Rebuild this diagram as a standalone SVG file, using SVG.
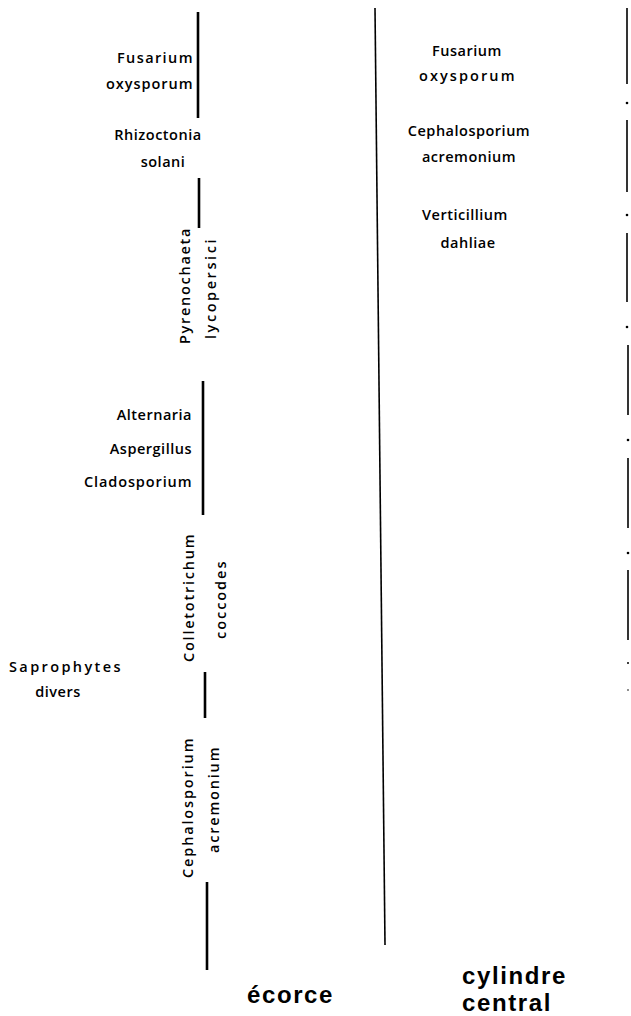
<svg xmlns="http://www.w3.org/2000/svg" width="631" height="1016" viewBox="0 0 631 1016">
<style>
  .t{font-family:"Open Sans","Liberation Sans",sans-serif;font-weight:600;font-size:14.5px;fill:#000;letter-spacing:0.5px}
  .r{text-anchor:end}
  .m{text-anchor:middle}
  .big{font-family:"Liberation Sans",Arial,sans-serif;font-weight:bold;font-size:24px;fill:#000;letter-spacing:1.6px}
  .ln{stroke:#000;stroke-width:2.6;fill:none}
  .thin{stroke:#000;stroke-width:1.6;fill:none}
  .dot{fill:#000}
</style>
<rect width="631" height="1016" fill="#fff"/>
<g id="connectors">
  <line class="ln" x1="198" y1="12" x2="198" y2="118"/>
  <line class="ln" x1="199" y1="178" x2="199" y2="228"/>
  <line class="ln" x1="203" y1="381" x2="203" y2="515"/>
  <line class="ln" x1="205" y1="672" x2="205" y2="718"/>
  <line class="ln" x1="207" y1="882" x2="207" y2="970"/>
  <line class="thin" x1="375" y1="8" x2="385" y2="945"/>
  <g id="right-dashes">
    <line class="thin" x1="627" y1="8" x2="627" y2="84"/>
    <line class="thin" x1="627" y1="120" x2="627" y2="192"/>
    <line class="thin" x1="627" y1="233" x2="627" y2="302"/>
    <line class="thin" x1="628" y1="345" x2="628" y2="415"/>
    <line class="thin" x1="628" y1="458" x2="628" y2="528"/>
    <line class="thin" x1="628" y1="570" x2="628" y2="640"/>
    <circle class="dot" cx="627" cy="103" r="1.3"/>
    <circle class="dot" cx="627" cy="215" r="1.3"/>
    <circle class="dot" cx="627" cy="327" r="1.3"/>
    <circle class="dot" cx="628" cy="440" r="1.3"/>
    <circle class="dot" cx="628" cy="553" r="1.3"/>
    <circle class="dot" cx="628" cy="663" r="1"/>
    <circle class="dot" cx="628" cy="690" r="0.8"/>
  </g>
</g>
<g id="n-fusarium-ecorce"><text class="t r" x="193" y="63" textLength="76" lengthAdjust="spacing">Fusarium</text><text class="t r" x="193" y="89" textLength="87" lengthAdjust="spacing">oxysporum</text></g>
<g id="n-rhizoctonia"><text class="t m" x="158" y="140">Rhizoctonia</text><text class="t m" x="163" y="167">solani</text></g>
<g id="n-pyrenochaeta"><text class="t m" transform="translate(190,286) rotate(-90)" textLength="116" lengthAdjust="spacing">Pyrenochaeta</text><text class="t m" transform="translate(216,289) rotate(-90)" textLength="100" lengthAdjust="spacing">lycopersici</text></g>
<g id="n-alternaria"><text class="t r" x="192" y="420">Alternaria</text><text class="t r" x="192" y="454">Aspergillus</text><text class="t r" x="192" y="487" textLength="108" lengthAdjust="spacing">Cladosporium</text></g>
<g id="n-colletotrichum"><text class="t m" transform="translate(194,598) rotate(-90)" textLength="128" lengthAdjust="spacing">Colletotrichum</text><text class="t m" transform="translate(226,600) rotate(-90)" textLength="78" lengthAdjust="spacing">coccodes</text></g>
<g id="n-saprophytes"><text class="t" x="9" y="672" textLength="112" lengthAdjust="spacing">Saprophytes</text><text class="t m" x="58" y="697">divers</text></g>
<g id="n-cephalosporium-ecorce"><text class="t m" transform="translate(193,808) rotate(-90)" textLength="140" lengthAdjust="spacing">Cephalosporium</text><text class="t m" transform="translate(219,800) rotate(-90)" textLength="106" lengthAdjust="spacing">acremonium</text></g>
<g id="n-fusarium-cyl"><text class="t m" x="467" y="56">Fusarium</text><text class="t m" x="467" y="81" textLength="96" lengthAdjust="spacing">oxysporum</text></g>
<g id="n-cephalosporium-cyl"><text class="t m" x="469" y="136">Cephalosporium</text><text class="t m" x="469" y="162">acremonium</text></g>
<g id="n-verticillium"><text class="t m" x="465" y="220">Verticillium</text><text class="t m" x="468" y="248">dahliae</text></g>
<g id="n-ecorce"><text class="big" x="247" y="1003">écorce</text></g>
<g id="n-cylindre"><text class="big" x="462" y="984">cylindre</text><text class="big" x="462" y="1011">central</text></g>
</svg>
